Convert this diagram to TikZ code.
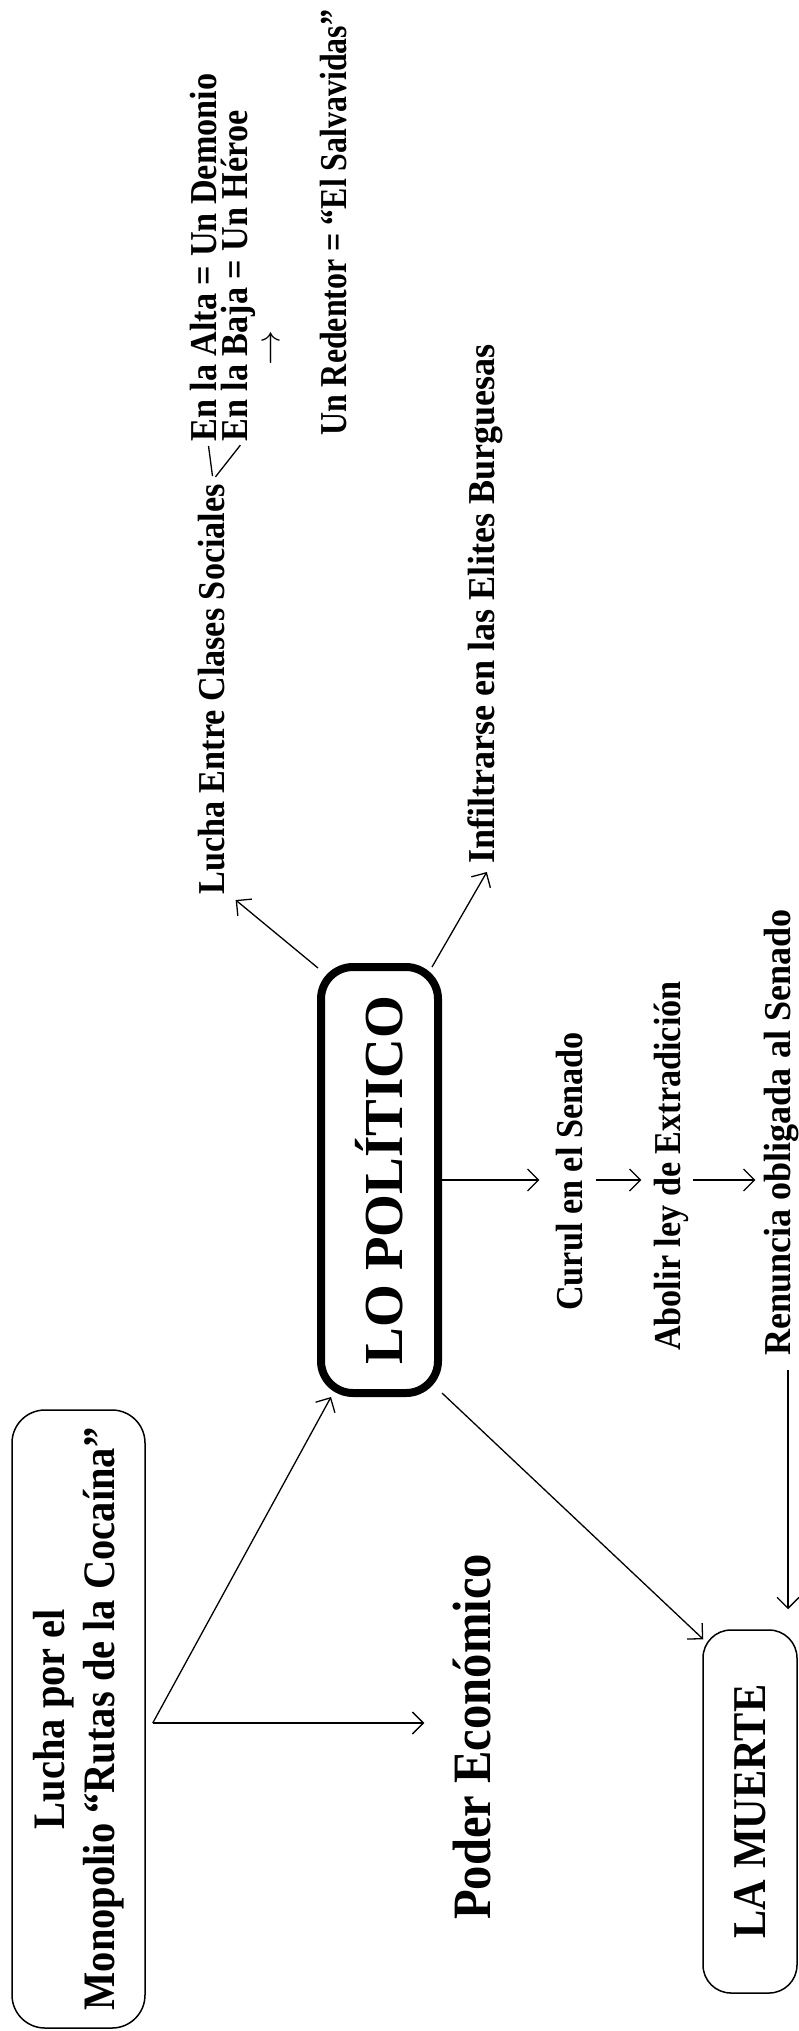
\documentclass[tikz,border=0pt]{standalone}
\usepackage{fontspec}
\setmainfont{Liberation Serif}
\newfontfamily\cnine[FakeStretch=0.9]{Liberation Serif}
\newfontfamily\ceight[FakeStretch=0.84]{Liberation Serif}
\newfontfamily\cninefive[FakeStretch=0.95]{Liberation Serif}
\newfontfamily\cfull{Liberation Serif}
\usetikzlibrary{arrows.meta,calc}
\begin{document}
\begin{tikzpicture}[x=1pt,y=-1pt,
  txt/.style={rotate=90, inner sep=0pt, anchor=base west, font=\cnine\bfseries\fontsize{38}{42}\selectfont},
  arr/.style={-{Straight Barb[length=11pt,width=22pt]}, line width=1.3pt},
  ln/.style={line width=1.3pt},
  box/.style={rotate=90, draw, inner sep=0pt, align=center}]
\useasboundingbox (0,0) rectangle (799,2031);
\fill[white] (0,0) rectangle (799,2031);

% boxes
\node[box, line width=1.5pt, rounded corners=33pt, minimum width=618pt, minimum height=133pt,
  font=\cnine\bfseries\fontsize{45}{50}\selectfont] (lucha) at (78.5,1719)
  {Lucha por el\\Monopolio “Rutas de la Cocaína”};
\node[box, line width=8pt, rounded corners=32pt, minimum width=426pt, minimum height=117pt,
  font=\cfull\bfseries\fontsize{55}{60}\selectfont] (pol) at (379.5,1180) {LO POLÍTICO};
\node[box, line width=1.5pt, rounded corners=28pt, minimum width=363pt, minimum height=94pt,
  font=\cnine\bfseries\fontsize{47}{50}\selectfont] (muerte) at (750,1811.5) {LA MUERTE};

% texts
\node[txt, font=\cnine\bfseries\fontsize{54}{58}\selectfont] (poder) at (490,1920) {Poder Económico};
\node[txt] (lucent) at (224,895) {Lucha Entre Clases Sociales};
\node[txt] (alta) at (216,442) {En la Alta = Un Demonio};
\node[txt] (baja) at (247,442) {En la Baja = Un Héroe};
\node[rotate=90, inner sep=0pt] (tor) at (273,348) {\scalebox{3.5}{$\rightarrow$}};
\node[txt, font=\ceight\bfseries\fontsize{38}{42}\selectfont] (red) at (346,436) {Un Redentor = “El Salvavidas”};
\node[txt, font=\cninefive\bfseries\fontsize{38}{42}\selectfont] (infil) at (494,864) {Infiltrarse en las Elites Burguesas};
\node[txt] (curul) at (582,1311) {Curul en el Senado};
\node[txt] (abolir) at (680,1351) {Abolir ley de Extradición};
\node[txt, font=\cninefive\bfseries\fontsize{38}{42}\selectfont] (renuncia) at (790,1356) {Renuncia obligada al Senado};

% connectors
\coordinate (ls) at ($(lucha.south)+(7,4)$);
\draw[arr] (ls) -- ($(pol.north west)+(14,0)$);
\draw[arr, shorten >=28pt] (ls) -- (ls -| poder.north);
\draw[arr] ($(pol.north east)+(1,5)$) -- ($(lucent.south west)+(11,5)$);
\draw[arr] ($(pol.south east)+(-10,4)$) -- ($(infil.west)+(2,8)$);
\draw[arr, shorten >=16pt] (pol.south) -- (pol.south -| curul.north);
\draw[arr, shorten <=13pt, shorten >=12pt] (curul.south |- pol.south) -- (abolir.north |- pol.south);
\draw[arr, shorten <=5pt, shorten >=8pt] (abolir.south |- pol.south) -- (renuncia.north |- pol.south);
\draw[arr] ($(pol.south west)+(0,-4)$) -- ($(muerte.north east)+(1,10)$);
\coordinate (rs) at ($(renuncia.west)+(7,0)$);
\draw[arr, shorten <=14pt, shorten >=20pt] (rs) -- (rs |- muerte.east);
\coordinate (bv) at (213,480);
\draw[ln, shorten <=4pt, shorten >=4pt] ($(alta.west)+(5,0)$) -- (bv);
\draw[ln, shorten <=4pt, shorten >=4pt] ($(baja.west)+(5,0)$) -- (bv);
\end{tikzpicture}
\end{document}
